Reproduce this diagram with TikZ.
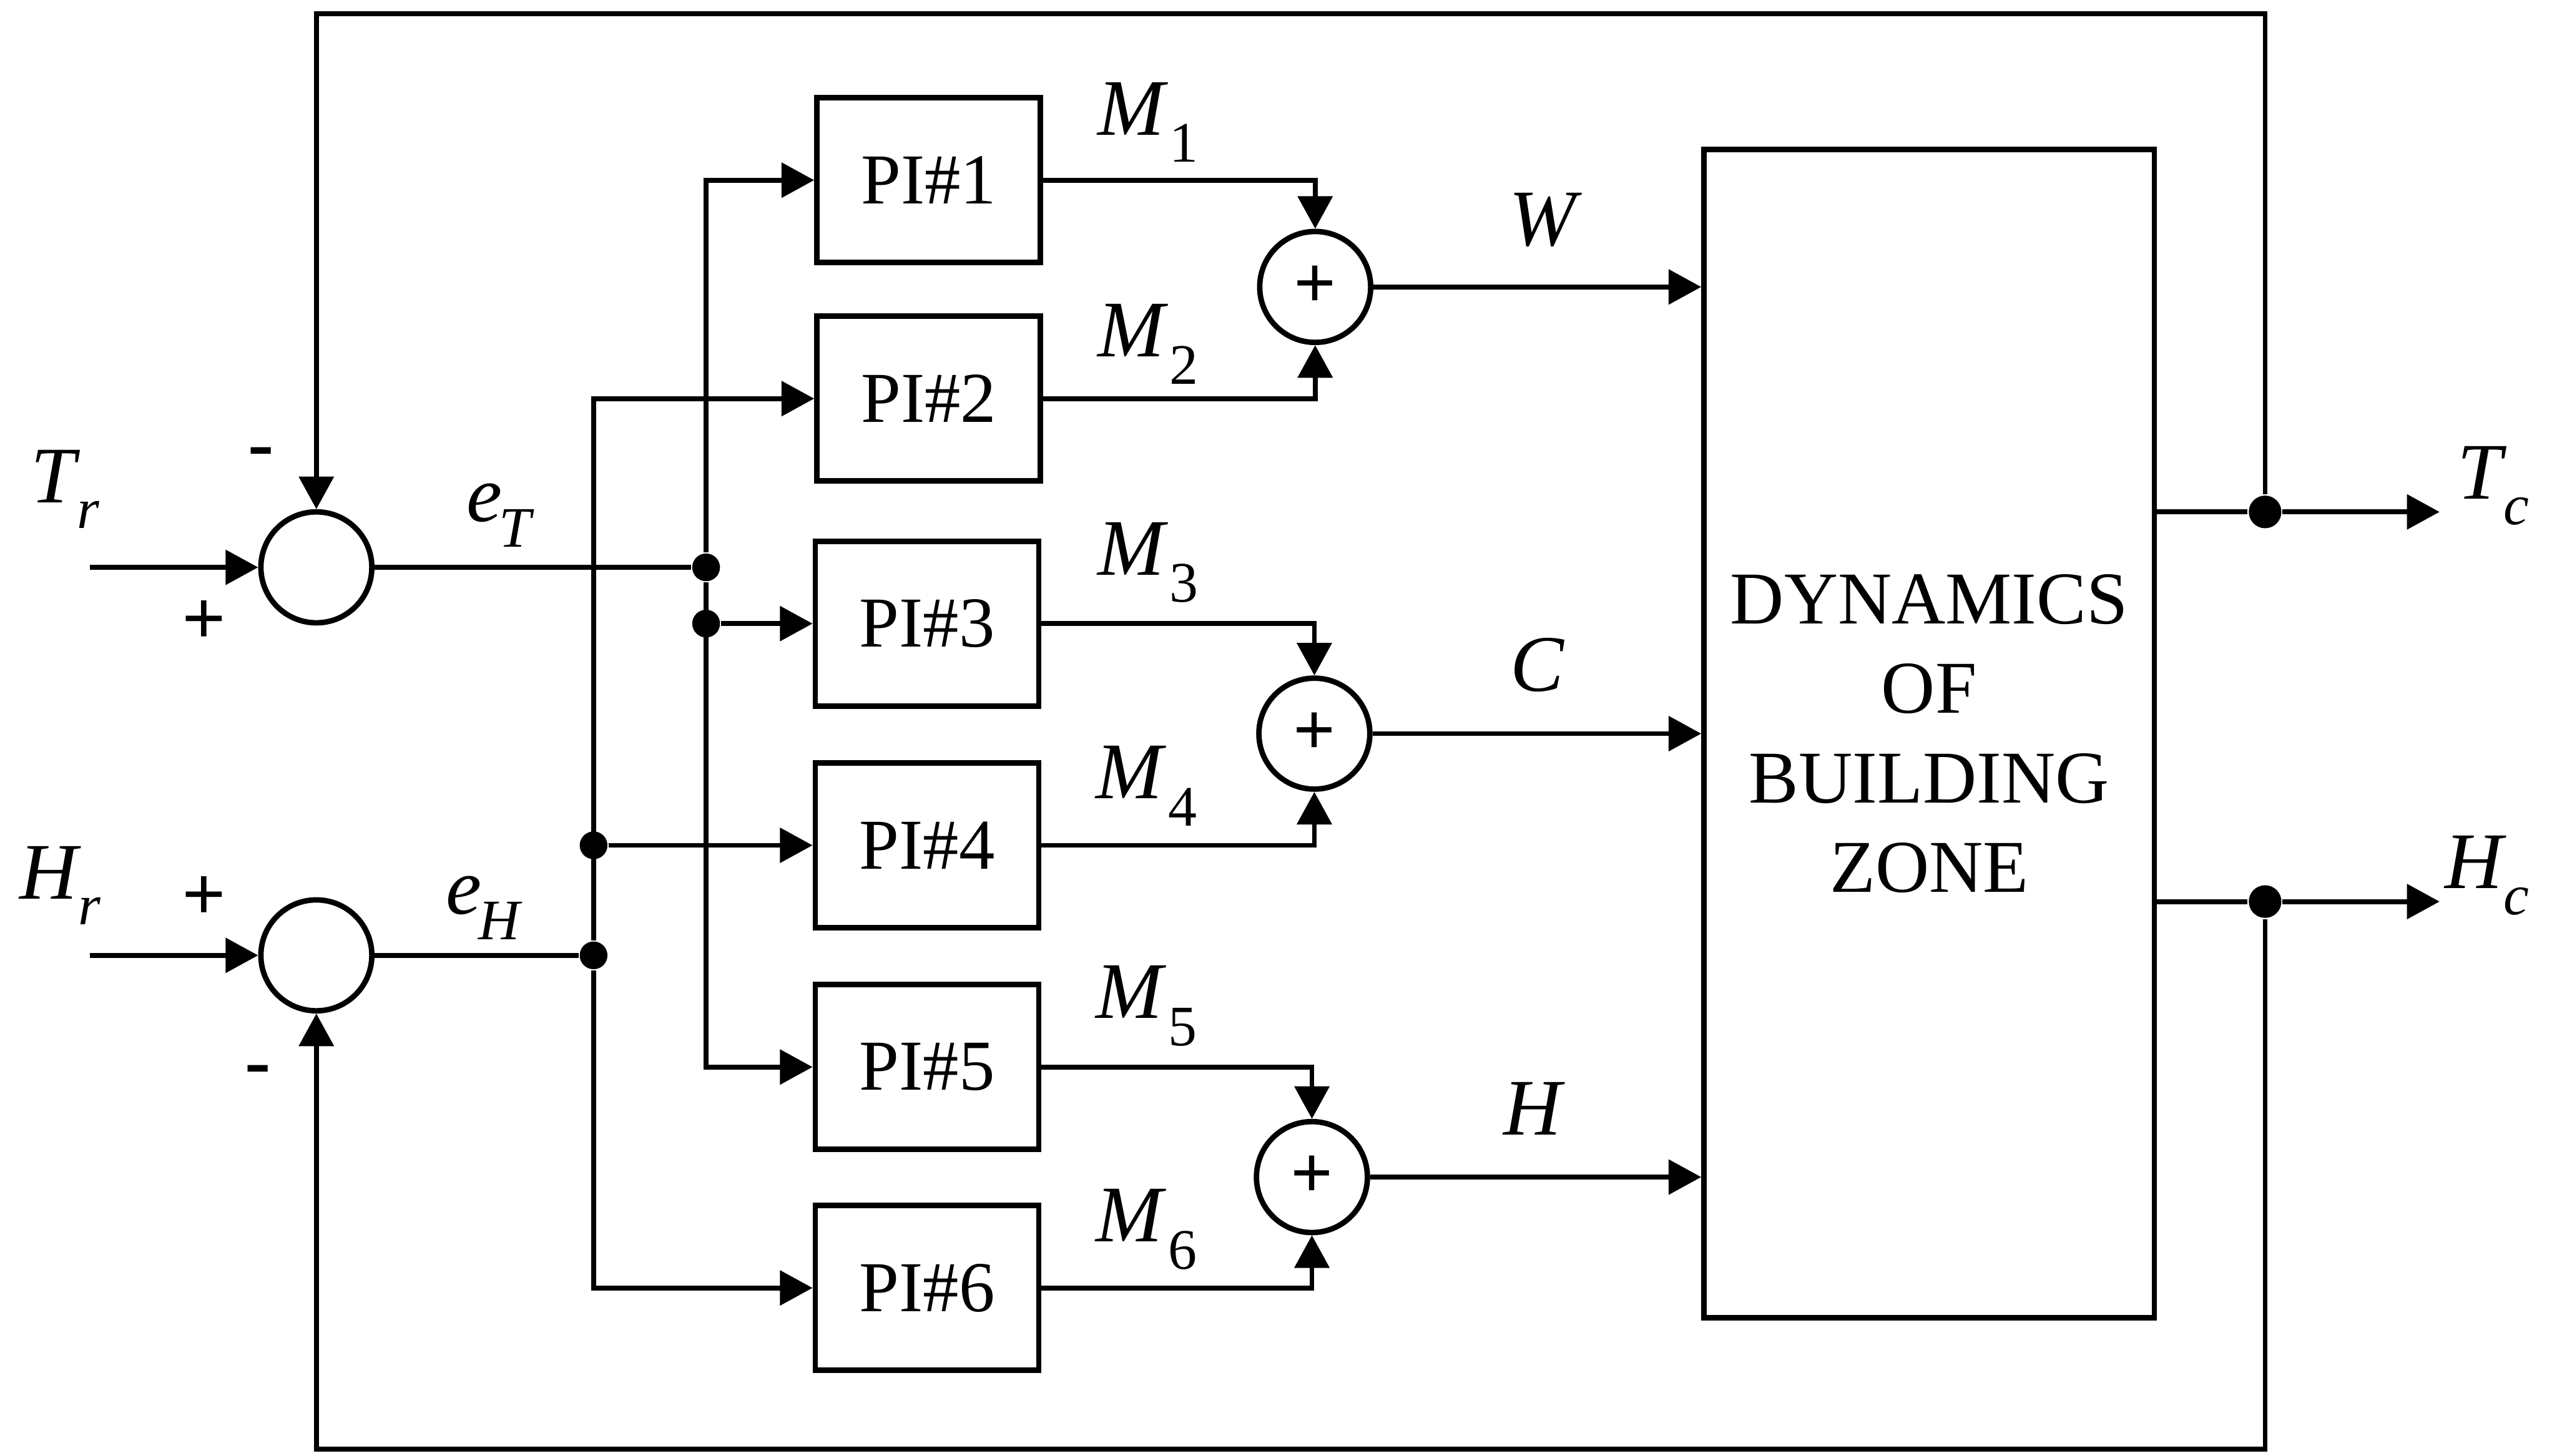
\documentclass[tikz,border=0pt]{standalone}
\usepackage{fontspec}
\setmainfont{Liberation Serif}
\usetikzlibrary{arrows.meta}
\newcommand\lab[2]{\textit{#1}\kern-0.04em\raisebox{-0.32em}{\fontsize{10}{10}\selectfont\textit{#2}}}
\newcommand\labn[2]{\textit{#1}\kern0.02em\raisebox{-0.34em}{\fontsize{10}{10}\selectfont #2}}
\begin{document}
\begin{tikzpicture}[x=0.01cm,y=-0.01cm,
  line/.style={line width=0.85pt},
  arr/.style={line width=0.85pt,-{Triangle[length=0.2cm,width=0.21cm]}},
  pibox/.style={draw,line width=0.95pt,minimum width=1.37cm,minimum height=1.01cm,inner sep=0pt,font=\fontsize{12.5}{14}\selectfont},
  sumc/.style={draw,circle,line width=0.95pt,minimum size=0.68cm,inner sep=0pt,font=\fontsize{13}{14}\selectfont\bfseries},
  dot/.style={circle,fill,inner sep=0pt,minimum size=0.17cm},
  bigdot/.style={circle,fill,inner sep=0pt,minimum size=0.2cm},
  lbl/.style={font=\fontsize{14}{16}\selectfont,inner sep=0pt},
  sign/.style={font=\fontsize{13.5}{14}\selectfont\bfseries,inner sep=0pt}]
\useasboundingbox (0,0) rectangle (1568,893);

% summing junctions
\node[sumc] (sT) at (194,348) {};
\node[sumc] (sH) at (194,586) {};
\node[sumc] (aW) at (806.5,176) {+};
\node[sumc] (aC) at (806,450) {+};
\node[sumc] (aH) at (804.5,722) {+};

% PI controllers
\node[pibox] (pi1) at (569.5,110.5) {PI\#1};
\node[pibox] (pi2) at (569.5,244.5) {PI\#2};
\node[pibox] (pi3) at (568.5,382.5) {PI\#3};
\node[pibox] (pi4) at (568.5,518.5) {PI\#4};
\node[pibox] (pi5) at (568.5,654.5) {PI\#5};
\node[pibox] (pi6) at (568.5,790) {PI\#6};

% plant
\node[draw,line width=0.95pt,minimum width=2.76cm,minimum height=7.16cm,align=center,
  font=\fontsize{13}{15.6}\selectfont] (dyn) at (1183,450) {DYNAMICS\\OF\\BUILDING\\ZONE};

% branch points
\node[dot] (dT1) at (433,348) {};
\node[dot] (dT2) at (433,382.5) {};
\node[dot] (dH1) at (364,518.5) {};
\node[dot] (dH2) at (364,586) {};
\node[bigdot] (dTc) at (1389,314) {};
\node[bigdot] (dHc) at (1389,553) {};

\coordinate (inTr) at (55,348);
\coordinate (inHr) at (55,586);
\coordinate (outTc) at (1496,314);
\coordinate (outHc) at (1496,553);
\coordinate (fbT) at (1389,8.5);
\coordinate (fbH) at (1389,889);

% inputs
\draw[arr] (inTr) -- (sT.west);
\draw[arr] (inHr) -- (sH.west);

% error distribution
\draw[line] (sT.east) -- (dT1);
\draw[arr] (dT1) |- (pi1.west);
\draw[arr] (dT1) |- (pi5.west);
\draw[arr] (dT2) -- (pi3.west);
\draw[line] (sH.east) -- (dH2);
\draw[arr] (dH2) |- (pi2.west);
\draw[arr] (dH2) |- (pi6.west);
\draw[arr] (dH1) -- (pi4.west);

% controller outputs
\draw[arr] (pi1.east) -| (aW.north);
\draw[arr] (pi2.east) -| (aW.south);
\draw[arr] (pi3.east) -| (aC.north);
\draw[arr] (pi4.east) -| (aC.south);
\draw[arr] (pi5.east) -| (aH.north);
\draw[arr] (pi6.east) -| (aH.south);

% to plant
\draw[arr] (aW.east) -- (aW.east -| dyn.west);
\draw[arr] (aC.east) -- (aC.east -| dyn.west);
\draw[arr] (aH.east) -- (aH.east -| dyn.west);

% outputs
\draw[line] (dTc -| dyn.east) -- (dTc);
\draw[arr] (dTc) -- (outTc);
\draw[line] (dHc -| dyn.east) -- (dHc);
\draw[arr] (dHc) -- (outHc);

% feedback
\draw[arr] (dTc) -- (fbT) -| (sT.north);
\draw[arr] (dHc) -- (fbH) -| (sH.south);

% labels
\node[lbl] (lTr) at (40,300) {\lab{T}{r}};
\node[lbl] (lHr) at (37,543) {\lab{H}{r}};
\node[sign] (pT) at (125,382) {+};
\node[sign] (mT) at (160,281) {-};
\node[sign] (pH) at (125,551) {+};
\node[sign] (mH) at (158,660) {-};
\node[lbl] (leT) at (307,316) {\lab{e}{T}};
\node[lbl] (leH) at (297,557) {\lab{e}{H}};
\node[lbl] (lM1) at (704,75) {\labn{M}{1}};
\node[lbl] (lM2) at (704,211) {\labn{M}{2}};
\node[lbl] (lM3) at (704,345) {\labn{M}{3}};
\node[lbl] (lM4) at (703,482) {\labn{M}{4}};
\node[lbl] (lM5) at (703,617) {\labn{M}{5}};
\node[lbl] (lM6) at (703,754) {\labn{M}{6}};
\node[lbl] (lW) at (948,135) {\textit{W}};
\node[lbl] (lC) at (943,408) {\textit{C}};
\node[lbl] (lH) at (941,680) {\textit{H}};
\node[lbl] (lTc) at (1529,298) {\lab{T}{c}};
\node[lbl] (lHc) at (1525,537) {\lab{H}{c}};
\end{tikzpicture}
\end{document}
